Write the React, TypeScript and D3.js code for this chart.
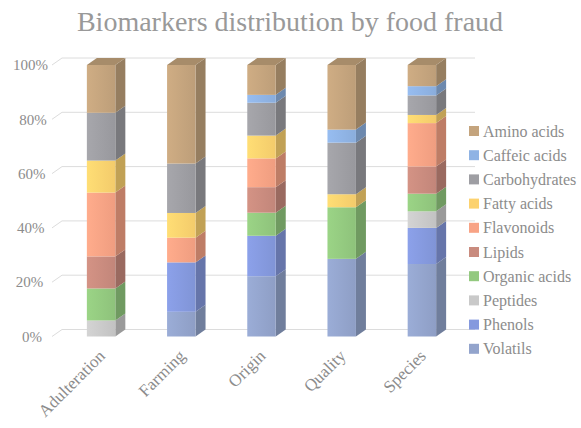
import React from "react";
import * as d3 from "d3";

const categories = ["Adulteration", "Farming", "Origin", "Quality", "Species"];
const seriesNames = [
  "Volatils",
  "Phenols",
  "Peptides",
  "Organic acids",
  "Lipids",
  "Flavonoids",
  "Fatty acids",
  "Carbohydrates",
  "Caffeic acids",
  "Amino acids",
];
// percentage per category, in series order above
const adulteration = [0, 0, 5.9, 11.8, 11.8, 23.5, 11.8, 17.6, 0, 17.6];
const farming = [9.1, 18.2, 0, 0, 0, 9.1, 9.1, 18.2, 0, 36.3];
const origin = [22.2, 14.9, 0, 8.5, 9.4, 10.6, 8.4, 12.1, 2.9, 11.0];
const quality = [28.6, 0, 0, 19.0, 0, 0, 4.8, 19.0, 4.8, 23.8];
const species = [26.7, 13.3, 6.1, 6.5, 10.0, 16.0, 3.0, 7.2, 3.4, 7.8];
const values = [adulteration, farming, origin, quality, species];
const colors = [
  "#93a4cc",
  "#8599de",
  "#c9c9c9",
  "#93c97f",
  "#c98b7e",
  "#f8a385",
  "#fcd26f",
  "#9e9ea3",
  "#8fb3e4",
  "#c4a47d",
];
const yTicks = [0, 20, 40, 60, 80, 100];
const title = "Biomarkers distribution by food fraud";

const W = 581;
const H = 428;
const DX = 10;
const DY = -7;
const FONT = "'Liberation Serif', 'Times New Roman', serif";
const TXT = "#8c8c8c";

export default function App() {
  const x = d3
    .scaleBand<string>()
    .domain(categories)
    .range([61, 462])
    .paddingInner(0.645)
    .paddingOuter(0.3225);
  const y = d3.scaleLinear().domain([0, 100]).range([336.5, 65]);
  const bw = x.bandwidth();

  const stackData = categories.map((c, i) => {
    const o: any = { cat: c };
    seriesNames.forEach((s, j) => (o[s] = values[i][j]));
    return o;
  });
  const stacked = d3.stack<any>().keys(seriesNames)(stackData);

  const segs: any[] = [];
  categories.forEach((c, ci) => {
    stacked.forEach((layer, si) => {
      const [a, b] = layer[ci];
      if (b - a > 0.001) segs.push({ c, ci, si, a, b });
    });
  });
  const topSeg: Record<string, any> = {};
  segs.forEach((s) => {
    if (!topSeg[s.c] || s.b > topSeg[s.c].b) topSeg[s.c] = s;
  });

  return (
    <svg width={W} height={H} style={{ display: "block", position: "absolute", left: 0, top: 0 }}>
      <defs>
        {colors.map((col, i) => (
          <linearGradient key={i} id={`g${i}`} x1="0" x2="1" y1="0" y2="0">
            <stop offset="0" stopColor={d3.color(col)!.brighter(0.15).formatHex()} />
            <stop offset="1" stopColor={d3.color(col)!.darker(0.1).formatHex()} />
          </linearGradient>
        ))}
      </defs>
      <rect width={W} height={H} fill="#fff" />
      <text
        x={290}
        y={31}
        textAnchor="middle"
        fontFamily={FONT}
        fontSize={28}
        fill="#999999"
      >
        {title}
      </text>
      {/* gridlines on back wall */}
      {yTicks.map((t) => (
        <g key={t}>
          <line
            x1={62}
            x2={475}
            y1={y(t) + DY}
            y2={y(t) + DY}
            stroke="#dcdcdc"
            strokeWidth={1}
          />
          <line
            x1={52}
            x2={62}
            y1={y(t)}
            y2={y(t) + DY}
            stroke="#dcdcdc"
            strokeWidth={1}
          />
          <text
            x={42 + 0.06 * t}
            y={y(t)}
            dy="0.35em"
            textAnchor="end"
            fontFamily={FONT}
            fontSize={15}
            fill={TXT}
          >
            {t}%
          </text>
        </g>
      ))}
      {/* bars */}
      {segs.map((s, k) => {
        const x0 = x(s.c)!;
        const x1 = x0 + bw;
        const y0 = y(s.a);
        const y1 = y(s.b);
        const col = colors[s.si];
        const side = d3.color(col)!.darker(0.75).formatHex();
        const top = d3.color(col)!.darker(0.45).formatHex();
        const isTop = topSeg[s.c] === s;
        return (
          <g key={k}>
            <path
              d={`M${x1},${y0}L${x1 + DX},${y0 + DY}L${x1 + DX},${y1 + DY}L${x1},${y1}Z`}
              fill={side}
            />
            <rect x={x0} y={y1} width={bw} height={y0 - y1} fill={`url(#g${s.si})`} />
            {isTop && (
              <path
                d={`M${x0},${y1}L${x0 + DX},${y1 + DY}L${x1 + DX},${y1 + DY}L${x1},${y1}Z`}
                fill={top}
              />
            )}
          </g>
        );
      })}
      {/* x labels */}
      {categories.map((c) => (
        <text
          key={c}
          transform={`translate(${x(c)! + bw / 2 + 5},${357}) rotate(-45)`}
          textAnchor="end"
          fontFamily={FONT}
          fontSize={17}
          fill={TXT}
        >
          {c}
        </text>
      ))}
      {/* legend */}
      {seriesNames
        .slice()
        .reverse()
        .map((s, i) => {
          const si = seriesNames.indexOf(s);
          const cy = 131 + 24.2 * i;
          return (
            <g key={s}>
              <rect x={469} y={cy - 5} width={10} height={10} fill={colors[si]} />
              <text
                x={483}
                y={cy}
                dy="0.35em"
                fontFamily={FONT}
                fontSize={16}
                fill={TXT}
              >
                {s}
              </text>
            </g>
          );
        })}
    </svg>
  );
}
